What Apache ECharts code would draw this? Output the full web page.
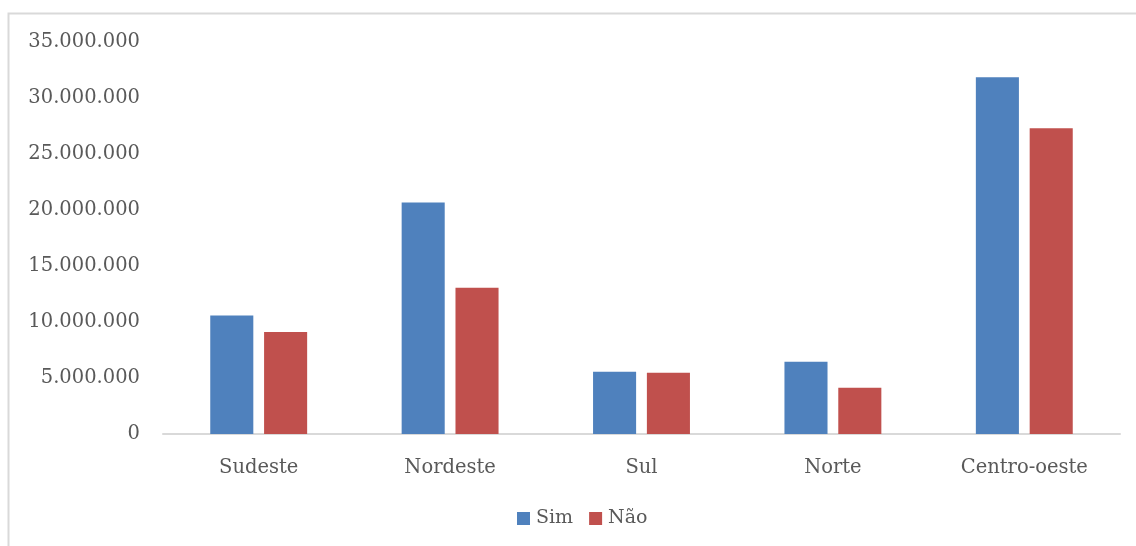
<!DOCTYPE html>
<html>
<head>
<meta charset="UTF-8">
<title>Sim / Não por região</title>
<script type="text/javascript" src="https://cdn.jsdelivr.net/npm/echarts@6/dist/echarts.min.js"></script>
<style>
	html, body { margin: 0; padding: 0; background: #fff; }
</style>
</head>

<body>
	<div id="chartmain" style="width: 1136px; height: 546px;"></div>
</body>
<script type="text/javascript">
	// dados
	var regioes = ['Sudeste', 'Nordeste', 'Sul', 'Norte', 'Centro-oeste'];
	var sim = [10570000, 20670000, 5550000, 6440000, 31850000];
	var nao = [9110000, 13060000, 5460000, 4120000, 27300000];

	var fonte = 'DejaVu Serif';
	var corTexto = '#595959';

	function formatar(v) {
		return String(v).replace(/\B(?=(\d{3})+(?!\d))/g, '.');
	}

	var myChart = echarts.init(document.getElementById('chartmain'));
	myChart.setOption({
		animation: false,
		textStyle: { fontFamily: fonte },
		graphic: [{
			type: 'rect',
			shape: { x: 8.5, y: 13.5, width: 1140, height: 540 },
			style: { fill: 'none', stroke: '#d9d9d9', lineWidth: 2 },
			silent: true
		}],
		legend: {
			data: ['Sim', 'Não'],
			bottom: 13,
			left: 512,
			itemWidth: 13,
			itemHeight: 13,
			itemGap: 16,
			icon: 'rect',
			textStyle: { fontFamily: fonte, fontSize: 19, color: corTexto, padding: [0, 0, 0, 1] }
		},
		grid: {
			left: 163,
			right: 16,
			top: 42,
			bottom: 112,
			containLabel: false
		},
		xAxis: {
			type: 'category',
			data: regioes,
			axisLine: { lineStyle: { color: '#d9d9d9', width: 2 } },
			axisTick: { show: false },
			axisLabel: { fontFamily: fonte, fontSize: 19.5, color: corTexto, margin: 24 }
		},
		yAxis: {
			type: 'value',
			min: 0,
			max: 35000000,
			interval: 5000000,
			splitLine: { show: false },
			axisLine: { show: false },
			axisTick: { show: false },
			axisLabel: {
				fontFamily: fonte, fontSize: 19.5, color: corTexto, margin: 23,
				formatter: formatar
			}
		},
		series: [{
			name: 'Sim',
			type: 'bar',
			data: sim,
			barWidth: '22.5%',
			barGap: '25%',
			itemStyle: { color: '#4f81bd' }
		}, {
			name: 'Não',
			type: 'bar',
			data: nao,
			barWidth: '22.5%',
			itemStyle: { color: '#c0504d' }
		}]
	});
</script>
</html>
